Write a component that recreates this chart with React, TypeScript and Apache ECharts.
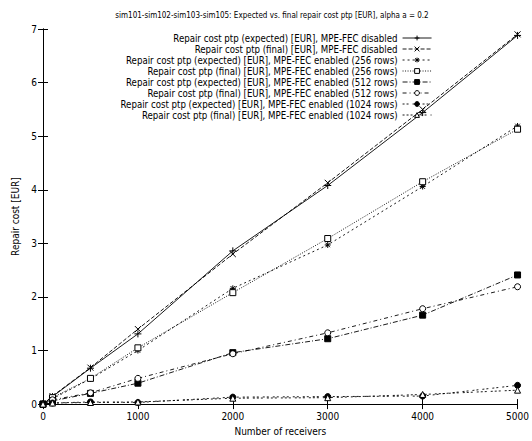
import React, { useEffect, useRef } from "react";
import * as echarts from "echarts";

const receivers = [0, 100, 500, 1000, 2000, 3000, 4000, 5000];
const expDisabled = [0, 0.14, 0.67, 1.31, 2.86, 4.08, 5.44, 6.88];
const finDisabled = [0, 0.15, 0.68, 1.4, 2.8, 4.13, 5.5, 6.9];
const exp256 = [0, 0.1, 0.47, 1.0, 2.16, 2.97, 4.06, 5.19];
const fin256 = [0, 0.12, 0.48, 1.05, 2.08, 3.09, 4.15, 5.13];
const exp512 = [0, 0.06, 0.2, 0.39, 0.96, 1.22, 1.66, 2.41];
const fin512 = [0, 0.08, 0.21, 0.48, 0.94, 1.33, 1.78, 2.19];
const exp1024 = [0, 0.02, 0.04, 0.03, 0.13, 0.14, 0.15, 0.35];
const fin1024 = [0, 0.02, 0.03, 0.04, 0.11, 0.12, 0.18, 0.26];

const seriesNames = [
  "Repair cost ptp (expected) [EUR], MPE-FEC disabled",
  "Repair cost ptp (final) [EUR], MPE-FEC disabled",
  "Repair cost ptp (expected) [EUR], MPE-FEC enabled (256 rows)",
  "Repair cost ptp (final) [EUR], MPE-FEC enabled (256 rows)",
  "Repair cost ptp (expected) [EUR], MPE-FEC enabled (512 rows)",
  "Repair cost ptp (final) [EUR], MPE-FEC enabled (512 rows)",
  "Repair cost ptp (expected) [EUR], MPE-FEC enabled (1024 rows)",
  "Repair cost ptp (final) [EUR], MPE-FEC enabled (1024 rows)",
];
const seriesValues = [expDisabled, finDisabled, exp256, fin256, exp512, fin512, exp1024, fin1024];

const FONT = "'Liberation Sans Narrow', 'DejaVu Sans Condensed', 'Liberation Sans', sans-serif";

const PLUS = "path://M0,4L8,4M4,0L4,8";
const CROSS = "path://M0,0L8,8M0,8L8,0";
const STAR = "path://M0,4L8,4M4,0L4,8M1,1L7,7M1,7L7,1";

const styles: any[] = [
  { symbol: PLUS, size: 7, fill: "none", dash: "solid" },
  { symbol: CROSS, size: 6, fill: "none", dash: [4, 2] },
  { symbol: STAR, size: 6, fill: "none", dash: [2, 3] },
  { symbol: "rect", size: 6, fill: "#fff", dash: [1, 1.5] },
  { symbol: "rect", size: 6, fill: "#000", dash: [5, 2, 1, 2] },
  { symbol: "circle", size: 6, fill: "#fff", dash: [4, 3, 1, 3] },
  { symbol: "circle", size: 6, fill: "#000", dash: [2, 2, 2, 4] },
  { symbol: "triangle", size: 6, fill: "#fff", dash: [2, 2, 2, 2, 2, 4] },
];

export default function App() {
  const ref = useRef<HTMLDivElement>(null);
  useEffect(() => {
    if (!ref.current) return;
    const chart = echarts.init(ref.current, undefined, { renderer: "svg" });
    const series = seriesNames.map((name, i) => ({
      name,
      type: "line",
      xAxisIndex: 0,
      yAxisIndex: 0,
      data: receivers.map((x, j) => [x, seriesValues[i][j]]),
      symbol: styles[i].symbol,
      symbolSize: styles[i].size,
      showAllSymbol: true,
      lineStyle: { color: "#000", width: 0.9, type: styles[i].dash },
      itemStyle: { color: styles[i].fill, borderColor: "#000", borderWidth: 1 },
      emphasis: { disabled: true },
    }));
    const legends = seriesNames.map((name, i) => ({
      data: [name],
      orient: "vertical",
      right: 100,
      top: 33 + 11 * i,
      align: "right",
      padding: 0,
      itemWidth: 29,
      itemHeight: 6,
      itemGap: 0,
      lineStyle: { width: 0.9 },
      itemStyle: { borderWidth: 1 },
      textStyle: { fontFamily: FONT, fontSize: 9.6, color: "#000" },
      selectedMode: false,
    }));
    const tickStyle = { inside: true, length: 5, lineStyle: { color: "#000", width: 1 } };
    const plain = (v: number) => String(v);
    chart.setOption({
      animation: false,
      backgroundColor: "#fff",
      textStyle: { fontFamily: FONT },
      grid: { left: 43, right: 9, top: 29, bottom: 33, containLabel: false },
      legend: legends,
      graphic: [
        {
          type: "text",
          x: 272,
          y: 15,
          style: {
            text: "sim101-sim102-sim103-sim105: Expected vs. final repair cost ptp [EUR], alpha a = 0.2",
            fontFamily: FONT,
            fontSize: 8,
            fill: "#000",
            align: "center",
            verticalAlign: "middle",
          },
        },
      ],
      xAxis: [
        {
          type: "value",
          min: 0,
          max: 5000,
          interval: 1000,
          position: "bottom",
          name: "Number of receivers",
          nameLocation: "middle",
          nameGap: 18,
          nameTextStyle: { fontFamily: FONT, fontSize: 10, color: "#000" },
          axisLine: { show: true, lineStyle: { color: "#000", width: 1 } },
          axisTick: tickStyle,
          axisLabel: { fontFamily: FONT, fontSize: 10, color: "#000", margin: 7, formatter: plain },
          splitLine: { show: false },
        },
        {
          type: "value",
          min: 0,
          max: 5000,
          interval: 1000,
          position: "top",
          axisLine: { show: true, lineStyle: { color: "#000", width: 1 } },
          axisTick: tickStyle,
          axisLabel: { show: false },
          splitLine: { show: false },
        },
      ],
      yAxis: [
        {
          type: "value",
          min: 0,
          max: 7,
          interval: 1,
          position: "left",
          name: "Repair cost [EUR]",
          nameLocation: "middle",
          nameGap: 18,
          nameRotate: 90,
          nameTextStyle: { fontFamily: FONT, fontSize: 10, color: "#000" },
          axisLine: { show: true, lineStyle: { color: "#000", width: 1 } },
          axisTick: tickStyle,
          axisLabel: { fontFamily: FONT, fontSize: 10, color: "#000", margin: 6, formatter: plain },
          splitLine: { show: false },
        },
        {
          type: "value",
          min: 0,
          max: 7,
          interval: 1,
          position: "right",
          axisLine: { show: true, lineStyle: { color: "#000", width: 1 } },
          axisTick: tickStyle,
          axisLabel: { show: false },
          splitLine: { show: false },
        },
      ],
      series,
    });
    return () => chart.dispose();
  }, []);
  return <div ref={ref} style={{ width: 532, height: 441, position: "absolute", left: 0, top: 0 }} />;
}
